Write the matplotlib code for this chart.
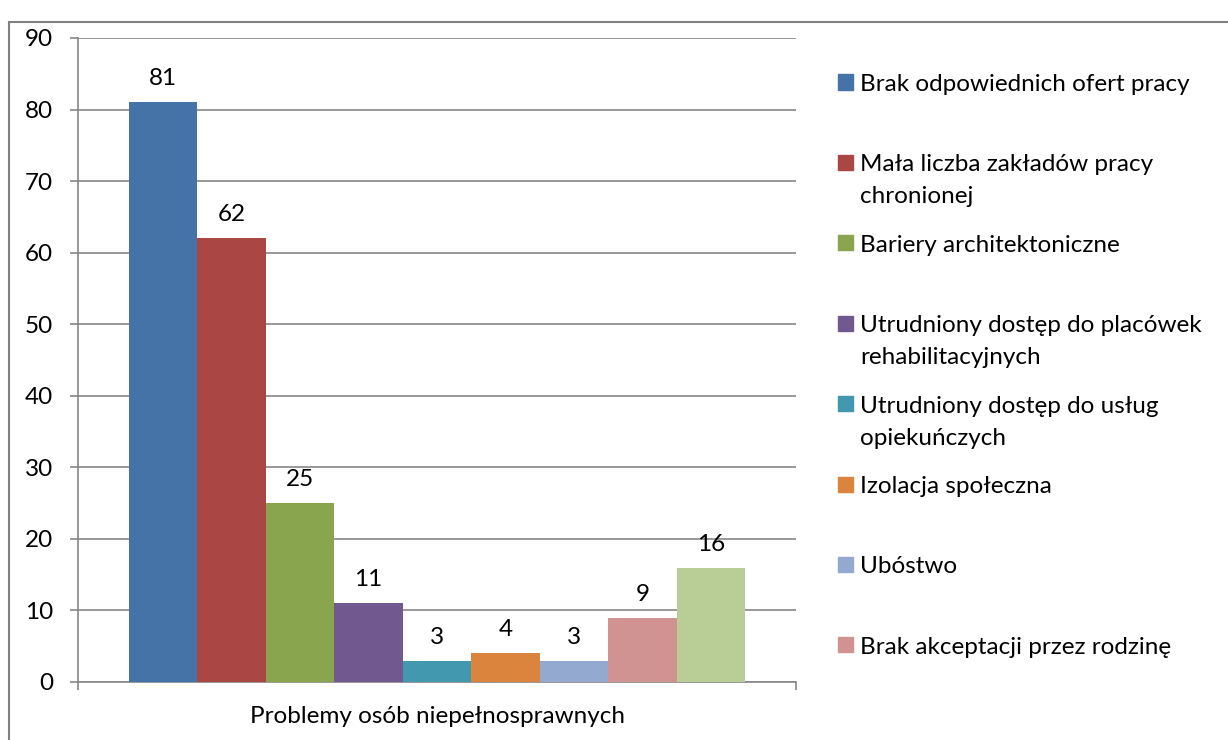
import matplotlib.pyplot as plt
from matplotlib.patches import Rectangle

plt.rcParams['font.family'] = ['Lato', 'DejaVu Sans']

labels = ['Brak odpowiednich ofert pracy',
          'Mała liczba zakładów pracy\nchronionej',
          'Bariery architektoniczne',
          'Utrudniony dostęp do placówek\nrehabilitacyjnych',
          'Utrudniony dostęp do usług\nopiekuńczych',
          'Izolacja społeczna',
          'Ubóstwo',
          'Brak akceptacji przez rodzinę',
          '']
values = [81, 62, 25, 11, 3, 4, 3, 9, 16]
colors = ['#4572A7', '#AA4643', '#89A54E', '#71588F', '#4198AF',
          '#DB843D', '#93A9CF', '#D19392', '#B9CD96']
category = 'Problemy osób niepełnosprawnych'

FS = 17.5
W, H = 1228, 740
fig = plt.figure(figsize=(W / 100, H / 100), dpi=100)
ax = fig.add_axes([78 / W, 1 - 682 / H, 718 / W, 644 / H])

# outer chart border (clipped by the figure edge like the original)
fig.patches.append(Rectangle((9 / W, -0.1), 1.1, 1 - 22 / H + 0.1,
                             transform=fig.transFigure, fill=False,
                             edgecolor='#808080', lw=1.5))

n = len(values)
group = 616 / 718
bw = group / n
x0 = 0.5 - group / 2
for i, (v, c) in enumerate(zip(values, colors)):
    x = x0 + bw * (i + 0.5)
    ax.bar(x, v, width=bw, color=c, zorder=3)
    ax.annotate(str(v), (x, v), xytext=(0, 17), textcoords='offset pixels',
                ha='center', va='baseline', fontsize=FS)

ax.set_xlim(0, 1)
ax.set_ylim(0, 90)
ax.set_yticks(range(0, 91, 10))
ax.yaxis.grid(True, color='#868686', lw=1.2, zorder=0)
ax.set_xticks([0, 1])
ax.set_xticklabels(['', ''])
ax.tick_params(axis='y', labelsize=FS, length=6, width=1.2, color='#868686', pad=12)
ax.tick_params(axis='x', length=6, width=1.2, color='#868686')
for side in ['top', 'right']:
    ax.spines[side].set_visible(False)
for side in ['left', 'bottom']:
    ax.spines[side].set_color('#868686')
    ax.spines[side].set_linewidth(1.2)
ax.set_xlabel(category, fontsize=FS, labelpad=8)

# manual legend, Excel style spacing
for i in range(8):
    yc = 82 + i * 80.4
    fig.patches.append(Rectangle((838 / W, 1 - (yc + 7.5) / H), 15 / W, 15 / H,
                                 transform=fig.transFigure, color=colors[i]))
    for k, line in enumerate(labels[i].split('\n')):
        fig.text(860 / W, 1 - (yc + 9 + 32 * k) / H, line, fontsize=FS,
                 va='baseline', ha='left')

fig.savefig('out.png', dpi=100)
